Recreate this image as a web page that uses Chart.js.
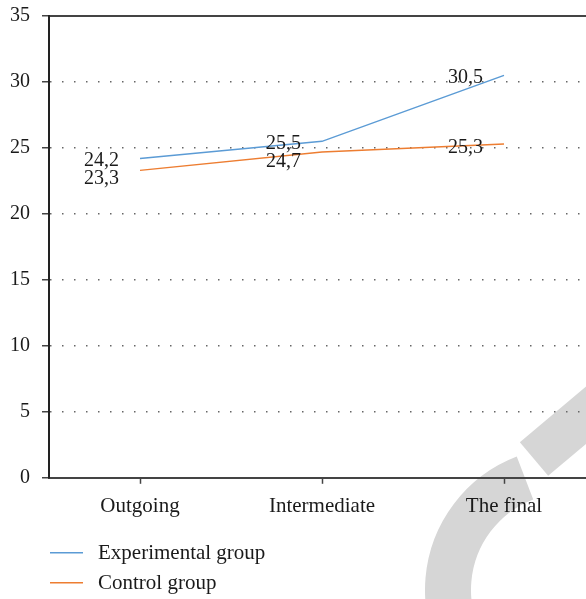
<!DOCTYPE html>
<html>
<head>
<meta charset="utf-8">
<script src="https://cdn.jsdelivr.net/npm/chart.js@4/dist/chart.umd.min.js"></script>
<style>
    html, body { margin: 0; padding: 0; background: #fff; overflow: hidden; }
    #wrap { width: 586px; height: 599px; overflow: hidden; }
    #groups { display: block; margin-top: -8px; }
</style>
</head>
<body>
<div id="wrap"><canvas id="groups" width="600" height="607"></canvas></div>
<script>
const categories = ['Outgoing', 'Intermediate', 'The final'];
const experimentalGroup = [24.2, 25.5, 30.5];
const controlGroup = [23.3, 24.7, 25.3];
const seriesNames = ['Experimental group', 'Control group'];
const yMin = 0, yMax = 35, yStep = 5;

const FONT = '"Liberation Serif", "Times New Roman", serif';
const TEXT = '#1a1a1a';
const AXIS = '#444';

/* grey mark in the lower right corner (canvas sits 8px higher than the page) */
const watermark = {
    id: 'watermark',
    beforeDraw(chart) {
        const ctx = chart.ctx;
        ctx.save();
        ctx.translate(0, 8);
        ctx.strokeStyle = '#d6d6d6';
        ctx.lineCap = 'butt';
        ctx.lineWidth = 46;
        ctx.beginPath();
        ctx.arc(568, 590, 120, 95 * Math.PI / 180, 249 * Math.PI / 180);
        ctx.stroke();
        ctx.lineWidth = 44;
        ctx.beginPath();
        ctx.moveTo(534, 459);
        ctx.lineTo(640, 370);
        ctx.stroke();
        ctx.restore();
    }
};

/* value labels, left of each point; lower label kept clear of the upper one */
const valueLabels = {
    id: 'valueLabels',
    afterDatasetsDraw(chart) {
        const ctx = chart.ctx;
        ctx.save();
        ctx.font = '20px ' + FONT;
        ctx.fillStyle = TEXT;
        ctx.textAlign = 'right';
        ctx.textBaseline = 'middle';
        const upper = chart.getDatasetMeta(0).data;
        chart.data.datasets.forEach((ds, i) => {
            chart.getDatasetMeta(i).data.forEach((pt, j) => {
                const txt = ds.data[j].toFixed(1).replace('.', ',');
                let y = pt.y + 2;
                if (i > 0) {
                    y = Math.max(pt.y + 4, upper[j].y + 2 + 18);
                }
                ctx.fillText(txt, pt.x - 21, y);
            });
        });
        ctx.restore();
    }
};

/* legend stacked under the axis */
const stackedLegend = {
    id: 'stackedLegend',
    afterDraw(chart) {
        const ctx = chart.ctx;
        const top = chart.chartArea.bottom + 75;
        ctx.save();
        ctx.font = '21px ' + FONT;
        ctx.textBaseline = 'middle';
        ctx.textAlign = 'left';
        chart.data.datasets.forEach((ds, i) => {
            const y = top + i * 30;
            ctx.strokeStyle = ds.borderColor;
            ctx.lineWidth = 1.5;
            ctx.beginPath();
            ctx.moveTo(50, y);
            ctx.lineTo(83, y);
            ctx.stroke();
            ctx.fillStyle = TEXT;
            ctx.fillText(ds.label, 98, y + 1);
        });
        ctx.restore();
    }
};

const ctx = document.getElementById('groups').getContext('2d');
const chartGroups = new Chart(ctx, {
    type: 'line',
    data: {
        labels: categories,
        datasets: [{
            label: seriesNames[0],
            data: experimentalGroup,
            borderColor: '#5b9bd5',
            borderWidth: 1.5,
            pointRadius: 0,
            tension: 0
        }, {
            label: seriesNames[1],
            data: controlGroup,
            borderColor: '#ed7d31',
            borderWidth: 1.5,
            pointRadius: 0,
            tension: 0
        }]
    },
    options: {
        responsive: false,
        animation: false,
        layout: {
            padding: {left: -2, right: 5, top: -5, bottom: 70}
        },
        scales: {
            x: {
                offset: true,
                grid: {
                    drawOnChartArea: false,
                    tickLength: 6,
                    tickColor: AXIS,
                    tickWidth: 1.5
                },
                border: {color: AXIS, width: 2},
                ticks: {
                    color: TEXT,
                    padding: 10,
                    font: {family: FONT, size: 21}
                }
            },
            xTop: {
                type: 'linear',
                position: 'top',
                min: 0,
                max: 1,
                grid: {drawOnChartArea: false, drawTicks: false},
                border: {color: AXIS, width: 2},
                ticks: {display: false}
            },
            y: {
                min: yMin,
                max: yMax,
                ticks: {
                    stepSize: yStep,
                    color: TEXT,
                    padding: 12,
                    font: {family: FONT, size: 20}
                },
                grid: {
                    color: '#666',
                    lineWidth: 1.5,
                    tickLength: 7,
                    tickColor: AXIS,
                    tickWidth: 1.5,
                    tickBorderDash: []
                },
                border: {color: '#222', width: 2, dash: [1.5, 10.5]}
            }
        },
        plugins: {
            legend: {display: false},
            tooltip: {enabled: false}
        }
    },
    plugins: [watermark, valueLabels, stackedLegend]
});
</script>
</body>
</html>
